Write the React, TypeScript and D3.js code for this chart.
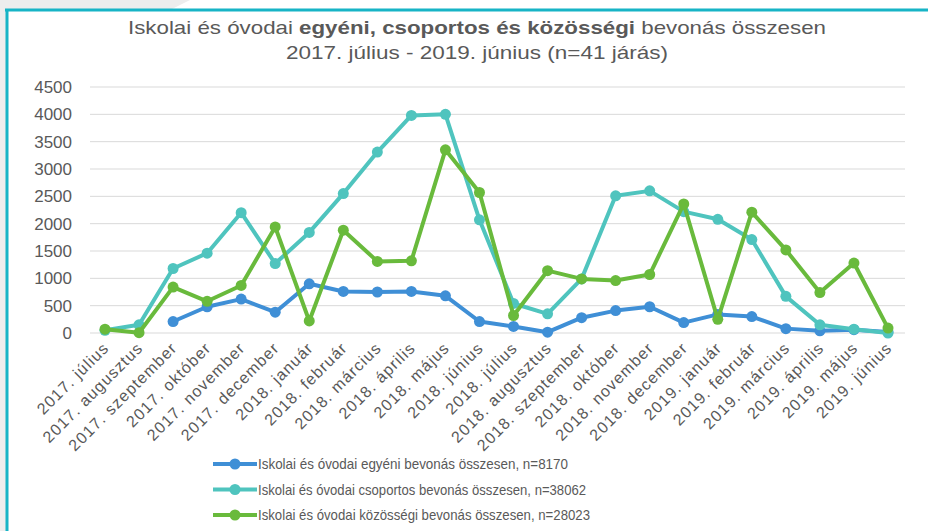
import React from "react";
import * as d3 from "d3";

const categories = [
  "2017. július", "2017. augusztus", "2017. szeptember", "2017. október", "2017. november", "2017. december",
  "2018. január", "2018. február", "2018. március", "2018. április", "2018. május", "2018. június",
  "2018. július", "2018. augusztus", "2018. szeptember", "2018. október", "2018. november", "2018. december",
  "2019. január", "2019. február", "2019. március", "2019. április", "2019. május", "2019. június",
];

const egyeni: (number | null)[] = [
  null, null, 210, 480, 620, 380, 900, 760, 750, 760, 680, 210,
  120, 15, 280, 410, 480, 190, 340, 300, 80, 40, 60, 20,
];
const csoportos: number[] = [
  50, 150, 1180, 1460, 2200, 1270, 1840, 2550, 3310, 3980, 4000, 2070,
  540, 350, 990, 2510, 2600, 2220, 2080, 1710, 670, 150, 70, 0,
];
const kozossegi: number[] = [
  70, 5, 840, 580, 870, 1940, 220, 1880, 1310, 1320, 3350, 2570,
  320, 1140, 990, 960, 1070, 2360, 250, 2210, 1520, 740, 1280, 90,
];

const yTicks = [0, 500, 1000, 1500, 2000, 2500, 3000, 3500, 4000, 4500];

const seriesNames = [
  "Iskolai és óvodai egyéni bevonás összesen, n=8170",
  "Iskolai és óvodai csoportos bevonás összesen, n=38062",
  "Iskolai és óvodai közösségi bevonás összesen, n=28023",
];
const legendWidths = [310, 328, 332];
const seriesColors = ["#3f8fd6", "#4fc4be", "#69ba3c"];

const W = 928;
const H = 531;
const FONT = "Arial, 'Liberation Sans', sans-serif";
const TEXT = "#595959";

export default function App() {
  const x = d3.scalePoint<string>().domain(categories).range([105, 888]);
  const y = d3.scaleLinear().domain([0, 4500]).range([333, 87]);
  const series = [egyeni, csoportos, kozossegi];

  const line = d3
    .line<number | null>()
    .defined((d) => d !== null)
    .x((_, i) => x(categories[i]) as number)
    .y((d) => y(d as number));

  return (
    <svg width={W} height={H} style={{ position: "absolute", left: 0, top: 0, background: "#fff" }} fontFamily={FONT}>
      <polygon points="0,0 190,0 172,9 7,9 7,531 0,531" fill="#ededed" />
      <line x1={5} x2={W} y1={10} y2={10} stroke="#17b4c6" strokeWidth={3} />
      <line x1={7} x2={7} y1={9} y2={H} stroke="#17b4c6" strokeWidth={3} />

      <text x={477} y={34} textAnchor="middle" fontSize={19} fill={TEXT} textLength={698} lengthAdjust="spacingAndGlyphs">
        <tspan>Iskolai és óvodai </tspan>
        <tspan fontWeight="bold">egyéni, csoportos és közösségi</tspan>
        <tspan> bevonás összesen</tspan>
      </text>
      <text x={477} y={59} textAnchor="middle" fontSize={19} fill={TEXT} textLength={382} lengthAdjust="spacingAndGlyphs">
        2017. július - 2019. június (n=41 járás)
      </text>

      {yTicks.map((t) => (
        <g key={t}>
          <line x1={90} x2={905} y1={y(t)} y2={y(t)} stroke="#d9d9d9" strokeWidth={1} />
          <text x={72} y={y(t)} dy="0.35em" textAnchor="end" fontSize={17} fill={TEXT}>
            {t}
          </text>
        </g>
      ))}

      {categories.map((c) => (
        <text
          key={c}
          transform={`translate(${(x(c) as number) + 5},${349}) rotate(-45)`}
          textAnchor="end"
          fontSize={16}
          letterSpacing={1.1}
          fill={TEXT}
        >
          {c}
        </text>
      ))}

      {series.map((s, si) => (
        <g key={si}>
          <path d={line(s) || ""} fill="none" stroke={seriesColors[si]} strokeWidth={4} strokeLinejoin="round" />
          {s.map((v, i) =>
            v === null ? null : (
              <circle key={i} cx={x(categories[i]) as number} cy={y(v)} r={5.5} fill={seriesColors[si]} />
            )
          )}
        </g>
      ))}

      {seriesNames.map((n, i) => {
        const ly = 464 + i * 25.5;
        return (
          <g key={n}>
            <line x1={213} x2={257} y1={ly} y2={ly} stroke={seriesColors[i]} strokeWidth={4} />
            <circle cx={235} cy={ly} r={5.5} fill={seriesColors[i]} />
            <text
              x={258}
              y={ly}
              dy="0.35em"
              fontSize={15}
              fill={TEXT}
              textLength={legendWidths[i]}
              lengthAdjust="spacingAndGlyphs"
            >
              {n}
            </text>
          </g>
        );
      })}
    </svg>
  );
}
